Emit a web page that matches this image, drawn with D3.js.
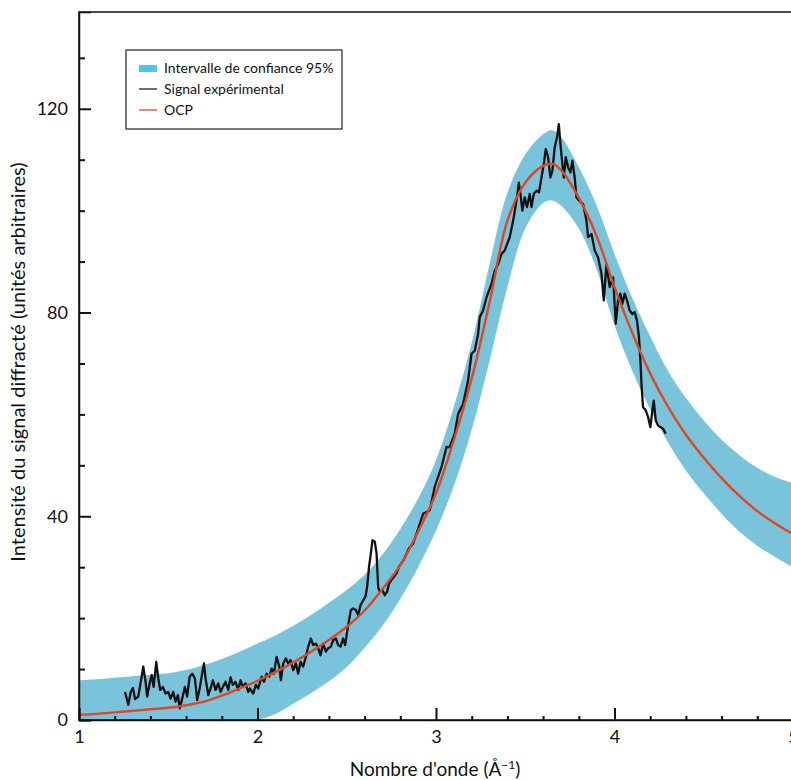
<!DOCTYPE html>
<html>
<head>
<meta charset="utf-8">
<script src="https://cdn.jsdelivr.net/npm/d3@7"></script>
<style>
  body { margin: 0; background: #fff; }
  svg { display: block; font-family: Lato, "Noto Sans", sans-serif; }
</style>
</head>
<body>
<div id="app"></div>
<script>
// OCP model curve and its 95% confidence band (wavenumber in 1/Å)
const gridX = [1.0, 1.1, 1.2, 1.3, 1.4, 1.5, 1.6, 1.7, 1.8, 1.9, 2.0, 2.1, 2.2, 2.3, 2.4, 2.5, 2.6, 2.7, 2.8, 2.9,
  3.0, 3.1, 3.2, 3.3, 3.4, 3.5, 3.6, 3.65, 3.7, 3.8, 3.9, 4.0, 4.1, 4.2, 4.3, 4.4, 4.5, 4.6, 4.7, 4.8, 4.9, 5.0]
const ocpValues = [1.0, 1.2, 1.5, 1.8, 2.1, 2.4, 2.9, 3.6, 4.8, 6.2, 7.7, 9.4, 11.3, 13.4, 15.7, 18.3, 21.5, 25.7, 30.4, 37,
  44.5, 55, 67, 82, 98, 105.5, 108.8, 109.2, 108, 102.5, 95, 85, 76, 68, 61.5, 56, 51.5, 47.5, 44, 41, 38.6, 36.5]
const bandUpper = [7.8, 8.0, 8.3, 8.6, 8.9, 9.2, 9.8, 10.8, 12.0, 13.4, 15.0, 16.6, 18.5, 20.6, 23.0, 25.5, 28.5, 32.5, 37.5, 43.5,
  51, 61.5, 74, 89.5, 103.5, 111, 115, 115.8, 114.5, 108.5, 101, 91.5, 82.8, 75.3, 68.5, 63.2, 58.8, 55, 52, 49.5, 47.7, 46.5]
const bandLower = [-6, -5.6, -5.2, -4.8, -4.4, -4, -3.5, -2.8, -1.8, -0.8, 0, 1.2, 3.2, 5.3, 7.6, 10.4, 14.2, 18.5, 23.8, 30,
  37.2, 46, 57, 70.5, 85, 96.5, 101.5, 102, 101, 96.5, 88.5, 77.5, 68.5, 61, 54.5, 49, 44.5, 40.5, 37, 34.2, 32, 30]

// experimental signal
const expX = [1.258, 1.276, 1.290, 1.302, 1.314, 1.332, 1.351, 1.360, 1.373, 1.382, 1.396, 1.407, 1.418, 1.433, 1.444,
  1.455, 1.470, 1.485, 1.500, 1.513, 1.528, 1.541, 1.554, 1.565, 1.578, 1.593, 1.606, 1.620, 1.634, 1.649, 1.662,
  1.676, 1.690, 1.700, 1.709, 1.724, 1.737, 1.750, 1.765, 1.780, 1.793, 1.806, 1.821, 1.836, 1.849, 1.862, 1.877,
  1.892, 1.905, 1.918, 1.933, 1.948, 1.957, 1.976, 1.991, 2.004, 2.023, 2.036, 2.051, 2.066, 2.079, 2.092, 2.107,
  2.122, 2.131, 2.144, 2.159, 2.172, 2.185, 2.200, 2.215, 2.228, 2.241, 2.256, 2.271, 2.284, 2.299, 2.312, 2.327,
  2.340, 2.353, 2.368, 2.383, 2.396, 2.411, 2.424, 2.439, 2.452, 2.465, 2.480, 2.491, 2.502, 2.513, 2.523, 2.536,
  2.551, 2.564, 2.577, 2.592, 2.605, 2.614, 2.625, 2.635, 2.644, 2.657, 2.667, 2.676, 2.685, 2.700, 2.713, 2.726,
  2.737, 2.751, 2.764, 2.779, 2.793, 2.820, 2.850, 2.870, 2.891, 2.928, 2.965, 2.993, 3.031, 3.059, 3.077, 3.105,
  3.124, 3.152, 3.180, 3.199, 3.217, 3.236, 3.245, 3.264, 3.283, 3.311, 3.329, 3.348, 3.367, 3.385, 3.413, 3.432,
  3.451, 3.464, 3.473, 3.484, 3.497, 3.510, 3.525, 3.535, 3.548, 3.563, 3.577, 3.591, 3.604, 3.615, 3.628, 3.641,
  3.652, 3.665, 3.678, 3.688, 3.697, 3.708, 3.716, 3.727, 3.740, 3.753, 3.764, 3.777, 3.787, 3.801, 3.824, 3.843,
  3.852, 3.871, 3.889, 3.908, 3.927, 3.940, 3.955, 3.973, 3.992, 4.007, 4.020, 4.033, 4.044, 4.057, 4.070, 4.085,
  4.100, 4.113, 4.126, 4.137, 4.145, 4.152, 4.160, 4.175, 4.188, 4.201, 4.212, 4.220, 4.231, 4.244, 4.257, 4.272, 4.287]
const expValues = [5.5, 3.0, 5.5, 6.3, 4.1, 4.6, 8.5, 10.5, 7.5, 4.6, 7.2, 8.8, 6.5, 11.4, 8.2,
  5.9, 6.5, 5.2, 5.5, 4.2, 5.5, 3.6, 4.9, 2.3, 4.2, 6.5, 4.6, 8.5, 9.1, 8.2, 3.9,
  6.2, 9.1, 11.1, 8.2, 4.9, 6.2, 7.8, 5.9, 7.2, 5.5, 6.5, 7.5, 5.9, 8.4, 6.9, 7.5,
  5.9, 7.8, 6.5, 7.2, 5.5, 6.2, 5.2, 6.9, 6.2, 8.5, 7.5, 9.1, 8.5, 10.1, 9.1, 12.4,
  10.5, 7.8, 11.1, 12.1, 11.1, 11.8, 9.8, 11.1, 9.1, 11.4, 10.5, 12.4, 14.4, 16, 14.7, 15,
  14.1, 12.7, 15, 13.4, 14.1, 14.4, 15.7, 16, 14.7, 14.4, 16, 14.7, 17.3, 19.6, 21.6, 21.9,
  21.6, 20.6, 22.5, 23.5, 24.2, 26.1, 30.1, 32.7, 35.3, 35.0, 32.7, 26.1, 25.2, 25.5, 24.5, 25.2,
  26.8, 27.5, 28.1, 28.8, 30.1, 31.5, 33.8, 34.5, 36.6, 40.5, 41.2, 45.8, 49.7, 53.6, 53.6, 56.2,
  60.1, 62.1, 66.7, 71.9, 72.5, 75.8, 79.1, 80.4, 83, 85.6, 88.2, 89.5, 91.5, 92.2, 94.8, 98,
  102, 105.5, 103.3, 100, 102.6, 100.7, 103.3, 100.7, 103.3, 103.9, 103.6, 106.5, 109.2, 112.1, 110.5, 106.5,
  107.8, 112.4, 114.4, 117, 113.1, 109.2, 106.5, 110.5, 108.5, 107.5, 109.8, 106.5, 102.6, 102, 101.3, 98,
  94.8, 95.4, 92.2, 90.8, 87.6, 82.4, 89.5, 85, 86.9, 77.8, 82.4, 83.7, 81.7, 83.7, 82.4, 80.4,
  79.7, 80.1, 78.4, 75.2, 70.6, 65.4, 61.4, 60.8, 59.5, 57.5, 60.8, 62.7, 58.8, 57.8, 57.5, 57.2, 56.2]

// axis ticks
const xMajor = [1, 2, 3, 4, 5]
const xMinor = d3.range(1.2, 5, 0.2).filter((d) => Math.abs(d - Math.round(d)) > 0.01)
const yMajor = [0, 40, 80, 120]
const yMinor = [10, 20, 30, 50, 60, 70, 90, 100, 110, 130]

const legendItems = ['Intervalle de confiance 95%', 'Signal expérimental', 'OCP']

const width = 791
const height = 780
const margin = { top: 12, right: -2, bottom: 60, left: 79 }

const svg = d3.select('#app').append('svg')
  .attr('width', width)
  .attr('height', height)

const x = d3.scaleLinear().domain([1, 5]).range([margin.left, width - margin.right])
const y = d3.scaleLinear().domain([0, 139]).range([height - margin.bottom, margin.top])

// clip to the plot frame
svg.append('clipPath').attr('id', 'plot-clip')
  .append('rect')
  .attr('x', x(1)).attr('y', y(139))
  .attr('width', x(5) - x(1)).attr('height', y(0) - y(139))

const plot = svg.append('g').attr('clip-path', 'url(#plot-clip)')

const bandData = gridX.map((d, i) => ({ x: d, lo: bandLower[i], hi: bandUpper[i] }))
const ocpData = gridX.map((d, i) => ({ x: d, v: ocpValues[i] }))
const expData = expX.map((d, i) => ({ x: d, v: expValues[i] }))

plot.append('path')
  .datum(bandData)
  .attr('fill', '#79c3db')
  .attr('d', d3.area()
    .x((d) => x(d.x))
    .y0((d) => y(d.lo))
    .y1((d) => y(d.hi))
    .curve(d3.curveCatmullRom.alpha(0.5)))

plot.append('path')
  .datum(expData)
  .attr('fill', 'none')
  .attr('stroke', '#111')
  .attr('stroke-width', 2.3)
  .attr('stroke-linejoin', 'round')
  .attr('d', d3.line().x((d) => x(d.x)).y((d) => y(d.v)))

plot.append('path')
  .datum(ocpData)
  .attr('fill', 'none')
  .attr('stroke', '#e1461f')
  .attr('stroke-width', 2.4)
  .attr('d', d3.line().x((d) => x(d.x)).y((d) => y(d.v)).curve(d3.curveCatmullRom.alpha(0.5)))

// frame
svg.append('rect')
  .attr('x', x(1)).attr('y', y(139))
  .attr('width', x(5) - x(1)).attr('height', y(0) - y(139))
  .attr('fill', 'none')
  .attr('stroke', '#111')
  .attr('stroke-width', 1.5)

// x axis
svg.append('g')
  .attr('transform', `translate(0,${y(0)})`)
  .call(d3.axisBottom(x).tickValues(xMajor).tickSize(-12).tickPadding(10).tickFormat(d3.format('d')))
svg.append('g')
  .attr('transform', `translate(0,${y(0)})`)
  .call(d3.axisBottom(x).tickValues(xMinor).tickSize(-4).tickFormat(''))
  .call((g) => g.select('.domain').remove())

// y axis
svg.append('g')
  .attr('transform', `translate(${x(1)},0)`)
  .call(d3.axisLeft(y).tickValues(yMajor).tickSize(-12).tickPadding(11))
svg.append('g')
  .attr('transform', `translate(${x(1)},0)`)
  .call(d3.axisLeft(y).tickValues(yMinor).tickSize(-6).tickFormat(''))
  .call((g) => g.select('.domain').remove())

svg.selectAll('.domain').attr('stroke', '#111').attr('stroke-width', 1.5)
svg.selectAll('.tick line').attr('stroke', '#111').attr('stroke-width', 2)
svg.selectAll('.tick text').attr('fill', '#111').style('font-size', '18px').style('font-family', 'Lato, "Noto Sans", sans-serif')

// axis titles
const xTitle = svg.append('text')
  .attr('x', 435)
  .attr('y', 776)
  .attr('text-anchor', 'middle')
  .style('font-size', '19px')
  .attr('fill', '#111')
xTitle.append('tspan').text("Nombre d'onde (Å")
xTitle.append('tspan').text('−1').attr('dy', -7).style('font-size', '12px')
xTitle.append('tspan').text(')').attr('dy', 7)

svg.append('text')
  .attr('transform', `translate(25,${362}) rotate(-90)`)
  .attr('text-anchor', 'middle')
  .style('font-size', '20px')
  .attr('fill', '#111')
  .text('Intensité du signal diffracté (unités arbitraires)')

// legend
const legend = svg.append('g').attr('transform', 'translate(126,50)')
legend.append('rect')
  .attr('width', 216).attr('height', 79)
  .attr('fill', '#fff')
  .attr('stroke', '#333')
  .attr('stroke-width', 1.3)

const rows = legend.selectAll('g.row').data(legendItems).join('g')
  .attr('class', 'row')
  .attr('transform', (d, i) => `translate(0,${18 + i * 21})`)

rows.each(function (d, i) {
  const g = d3.select(this)
  if (i === 0) {
    g.append('rect').attr('x', 13).attr('y', -3).attr('width', 18).attr('height', 7).attr('fill', '#4ec4f0')
  } else {
    g.append('line').attr('x1', 13).attr('x2', 31).attr('y1', 0).attr('y2', 0)
      .attr('stroke', i === 1 ? '#111' : '#e8302a').attr('stroke-width', 1.2)
  }
  g.append('text')
    .attr('x', 38).attr('y', 0).attr('dy', '0.35em')
    .style('font-size', '14px')
    .attr('fill', '#111')
    .text(d)
})
</script>
</body>
</html>
